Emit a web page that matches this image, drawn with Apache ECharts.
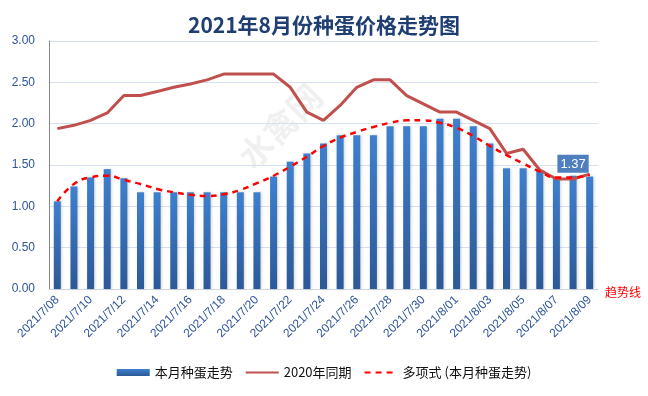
<!DOCTYPE html>
<html>
<head>
<meta charset="utf-8">
<script src="https://cdn.jsdelivr.net/npm/echarts@6/dist/echarts.min.js"></script>
<style>html,body{margin:0;padding:0;background:#fff}#c{width:648px;height:396px}</style>
</head>
<body>
<div id="c"></div>
<script>
var titleText = '2021年8月份种蛋价格走势图';
var categories = ['2021/7/08','2021/7/09','2021/7/10','2021/7/11','2021/7/12','2021/7/13','2021/7/14','2021/7/15','2021/7/16','2021/7/17','2021/7/18','2021/7/19','2021/7/20','2021/7/21','2021/7/22','2021/7/23','2021/7/24','2021/7/25','2021/7/26','2021/7/27','2021/7/28','2021/7/29','2021/7/30','2021/7/31','2021/8/01','2021/8/02','2021/8/03','2021/8/04','2021/8/05','2021/8/06','2021/8/07','2021/8/08','2021/8/09'];
var thisMonth = [1.06,1.24,1.35,1.45,1.34,1.17,1.17,1.17,1.17,1.17,1.17,1.17,1.17,1.36,1.54,1.64,1.76,1.86,1.86,1.86,1.97,1.97,1.97,2.06,2.06,1.97,1.76,1.46,1.46,1.44,1.35,1.37,1.36];
var lastYear = [1.94,1.98,2.04,2.13,2.34,2.34,2.39,2.44,2.48,2.53,2.60,2.60,2.60,2.60,2.44,2.14,2.04,2.22,2.44,2.53,2.53,2.34,2.24,2.14,2.14,2.04,1.94,1.64,1.69,1.44,1.33,1.33,1.39];
var trend = [1.06,1.27,1.35,1.37,1.32,1.27,1.21,1.17,1.14,1.125,1.145,1.20,1.28,1.37,1.48,1.60,1.73,1.83,1.90,1.96,2.01,2.04,2.04,2.01,1.95,1.85,1.73,1.62,1.52,1.42,1.35,1.35,1.38];
var seriesNames = ['本月种蛋走势','2020年同期','多项式 (本月种蛋走势)'];
var labelIndex = 31;
var trendNote = '趋势线';
var watermark = '水禽网';

var chart = echarts.init(document.getElementById('c'), null, {renderer:'canvas'});
var barData = thisMonth.map(function(v,i){
  if(i===labelIndex){
    return {value:v,label:{show:true,position:'top',distance:3,formatter:function(p){return p.value.toFixed(2);},
      backgroundColor:'#4F7FBE',color:'#fff',fontSize:13,padding:[3,3,2,3],fontFamily:'Liberation Sans'}};
  }
  return v;
});
chart.setOption({
  animation:false,
  backgroundColor:'#fff',
  title:{text:titleText,left:'center',top:10,textStyle:{fontSize:21,fontWeight:'bold',color:'#1F3F73',fontFamily:'Noto Sans CJK SC'}},
  grid:{left:49,right:50,top:41,bottom:107,containLabel:false},
  legend:{bottom:12,left:'center',itemWidth:33,itemHeight:7,itemGap:12,
    textStyle:{fontSize:13,color:'#111',fontFamily:'Noto Sans CJK SC'},
    data:[{name:seriesNames[0],icon:'rect'},
          {name:seriesNames[1],itemStyle:{opacity:0}},
          {name:seriesNames[2],itemStyle:{opacity:0}}]},
  xAxis:{type:'category',data:categories,boundaryGap:true,
    axisLine:{lineStyle:{color:'#D0D7E5'}},axisTick:{show:false},
    axisLabel:{interval:1,rotate:45,margin:9,fontSize:12,color:'#2F5597',fontFamily:'Liberation Sans'}},
  yAxis:{type:'value',min:0,max:3,interval:0.5,
    axisLine:{show:true,lineStyle:{color:'#868686'}},axisTick:{show:false},
    splitLine:{lineStyle:{color:'#D6E0EE'}},
    axisLabel:{margin:14,fontSize:12,color:'#2F5597',fontFamily:'Liberation Sans',formatter:function(v){return v.toFixed(2);}}},
  graphic:[
    {type:'text',left:605,top:286,style:{text:trendNote,fill:'#FF0000',font:'12px "Noto Sans CJK SC"'}},
    {type:'text',x:232,y:150,rotation:Math.PI/4,z:0,style:{text:watermark,fill:'rgba(0,0,0,0.06)',font:'bold 34px "Noto Sans CJK SC"'}}
  ],
  series:[
    {name:seriesNames[0],type:'bar',data:barData,barWidth:7,
      itemStyle:{color:new echarts.graphic.LinearGradient(0,0,0,1,[{offset:0,color:'#3E80CE'},{offset:1,color:'#2C5997'}]),
        shadowColor:'rgba(0,0,0,0.18)',shadowBlur:3,shadowOffsetX:1}},
    {name:seriesNames[1],type:'line',data:lastYear,symbol:'none',z:3,
      lineStyle:{color:'#C0504D',width:3},itemStyle:{color:'#C0504D'}},
    {name:seriesNames[2],type:'line',data:trend,symbol:'none',smooth:true,z:4,
      lineStyle:{color:'#FF0000',width:2.5,type:[6,5]},itemStyle:{color:'#FF0000'}}
  ]
});
</script>
</body>
</html>
